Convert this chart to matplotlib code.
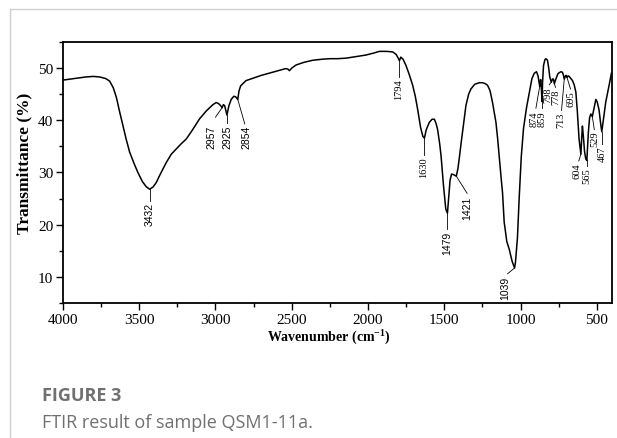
import numpy as np
import matplotlib
matplotlib.use('agg')
import matplotlib.pyplot as plt
from matplotlib.ticker import MultipleLocator
from matplotlib.lines import Line2D

plt.rcParams['font.family'] = ['Liberation Serif', 'DejaVu Serif']
plt.rcParams['mathtext.fontset'] = 'custom'
plt.rcParams['mathtext.rm'] = 'Liberation Serif:bold'
plt.rcParams['mathtext.bf'] = 'Liberation Serif:bold'

# spectrum (wavenumber, transmittance %)
wavenumber = [4000, 3950, 3900, 3850, 3800, 3760, 3720, 3694, 3670, 3650, 3630, 3607,
              3585, 3563, 3535, 3509, 3480, 3455, 3432, 3410, 3388, 3360, 3323, 3290,
              3257, 3225, 3192, 3150, 3104, 3060, 3017, 2995, 2980, 2966, 2957, 2948,
              2940, 2925, 2912, 2897, 2880, 2868, 2854, 2846, 2835, 2800, 2750, 2700,
              2650, 2600, 2540, 2525, 2515, 2500, 2471, 2420, 2362, 2300, 2250, 2200,
              2144, 2080, 2013, 1960, 1926, 1880, 1838, 1815, 1800, 1794, 1785, 1770,
              1751, 1730, 1707, 1690, 1675, 1655, 1640, 1630, 1618, 1598, 1580, 1565,
              1555, 1544, 1530, 1521, 1505, 1490, 1479, 1470, 1462, 1452, 1440, 1421,
              1410, 1402, 1390, 1380, 1368, 1358, 1340, 1325, 1300, 1270, 1249, 1230,
              1216, 1200, 1184, 1172, 1161, 1150, 1140, 1125, 1118, 1107, 1090, 1074,
              1055, 1039, 1033, 1026, 1020, 1009, 995, 980, 960, 943, 925, 910,
              895, 885, 874, 868, 863, 859, 855, 849, 840, 834, 823, 815,
              808, 798, 790, 784, 778, 768, 755, 747, 735, 725, 718, 713,
              705, 700, 695, 688, 681, 670, 659, 648, 637, 628, 616, 604,
              598, 594, 588, 580, 572, 565, 560, 555, 547, 539, 529, 520,
              506, 497, 485, 475, 467, 458, 441, 419, 404]
transmittance = [47.7, 47.9, 48.1, 48.3, 48.4, 48.3, 48.0, 47.5, 46.2, 44.4, 41.8, 39.0,
                 36.3, 33.9, 31.8, 30.0, 28.3, 27.3, 26.8, 27.2, 28.1, 29.8, 31.9, 33.5,
                 34.5, 35.5, 36.4, 38.2, 40.3, 41.8, 43.0, 43.4, 43.2, 42.8, 42.4, 43.0,
                 42.8, 41.0, 42.8, 44.0, 44.6, 44.5, 44.0, 45.6, 46.6, 47.6, 48.1, 48.6,
                 49.0, 49.4, 49.9, 49.8, 49.5, 50.0, 50.6, 51.1, 51.5, 51.7, 51.8, 51.8,
                 51.9, 52.2, 52.5, 52.9, 53.2, 53.2, 53.1, 52.6, 51.8, 51.4, 52.1, 51.7,
                 50.5, 48.8, 46.7, 44.6, 42.2, 38.6, 36.9, 36.6, 38.2, 39.6, 40.2, 40.2,
                 39.5, 38.3, 35.5, 33.2, 27.5, 23.0, 22.2, 25.5, 28.5, 29.7, 29.6, 29.3,
                 30.8, 32.6, 35.5, 37.7, 40.5, 42.8, 45.0, 46.0, 46.9, 47.2, 47.2, 47.0,
                 46.7, 45.7, 43.5, 41.5, 39.6, 36.5, 33.2, 28.3, 26.2, 20.5, 16.8, 15.3,
                 13.0, 11.7, 12.8, 15.3, 17.5, 24.9, 33.0, 38.5, 42.5, 45.2, 48.0, 49.0,
                 49.3, 48.5, 46.5, 47.8, 46.0, 43.6, 47.5, 50.5, 51.6, 51.8, 51.5, 50.0,
                 48.3, 47.3, 47.9, 47.9, 47.0, 47.9, 48.9, 49.1, 49.3, 49.2, 48.6, 47.9,
                 48.5, 48.6, 48.2, 48.5, 48.4, 48.0, 47.6, 46.8, 45.4, 42.0, 36.4, 33.5,
                 37.0, 38.9, 37.0, 34.0, 32.6, 32.3, 35.0, 37.7, 40.5, 41.2, 40.7, 42.0,
                 44.0, 43.5, 42.0, 39.5, 37.8, 39.8, 43.5, 46.7, 49.0]

# labelled bands
peaks = [3432, 2957, 2925, 2854, 1794, 1630, 1479, 1421, 1039,
         874, 859, 798, 778, 713, 695, 604, 565, 529, 467]
sans_peaks = [3432, 2957, 2925, 2854, 1479, 1421, 1039]

# leader line end (x, y) and top of text (x, y) for each label
label_pos = {
    3432: (3432, 24.6, 3432, 24.3),
    2957: (3000, 40.6, 3026, 39.1),
    2925: (2925, 39.4, 2924, 39.1),
    2854: (2808, 39.3, 2799, 39.1),
    1794: (1794, 48.3, 1798, 48.0),
    1630: (1630, 33.3, 1632, 33.0),
    1479: (1479, 19.2, 1482, 18.9),
    1421: (1350, 26.0, 1347, 25.6),
    1039: (1085, 10.6, 1102, 10.3),
    874: (899, 42.3, 912, 41.9),
    859: (859, 42.3, 856, 41.9),
    798: (812, 46.8, 818, 46.5),
    778: (770, 46.3, 766, 46.0),
    713: (731, 41.9, 736, 41.6),
    695: (672, 46.0, 668, 45.7),
    604: (618, 32.2, 627, 31.9),
    565: (565, 31.2, 565, 31.0),
    529: (516, 38.2, 511, 38.0),
    467: (467, 35.4, 467, 35.1),
}

fig = plt.figure(figsize=(6.17, 4.39), dpi=100)
ax = fig.add_axes([0.1021, 0.3075, 0.8898, 0.5946])

ax.plot(wavenumber, transmittance, color='black', lw=1.1)

for p in peaks:
    y0 = transmittance[wavenumber.index(p)]
    lx, ly, tx, ty = label_pos[p]
    ax.plot([p, lx], [y0, ly], color='black', lw=0.6)
    if p in sans_peaks:
        fam, fs = ['Liberation Sans', 'DejaVu Sans'], 7.5
    else:
        fam, fs = ['Liberation Serif', 'DejaVu Serif'], 7.5
    ax.text(tx, ty, str(p), rotation=90, ha='center', va='top',
            fontsize=fs, family=fam)

ax.set_xlim(4000, 400)
ax.set_ylim(5, 55)
ax.xaxis.set_major_locator(MultipleLocator(500))
ax.xaxis.set_minor_locator(MultipleLocator(250))
ax.yaxis.set_major_locator(MultipleLocator(10))
ax.yaxis.set_minor_locator(MultipleLocator(5))
ax.tick_params(which='both', direction='out', width=1.0, labelsize=11)
ax.tick_params(which='major', length=5, pad=2)
ax.tick_params(which='minor', length=3)
for s in ax.spines.values():
    s.set_linewidth(1.3)

ax.set_xlabel('Wavenumber (cm$^{-1}$)', fontsize=10, fontweight='bold')
ax.set_ylabel('Transmittance (%)', fontsize=12.5, fontweight='bold')
ax.xaxis.set_label_coords(0.4845, -0.09)
ax.yaxis.set_label_coords(-0.055, 0.54)

# card border and caption
fig.add_artist(Line2D([10 / 617, 1], [1 - 10 / 439, 1 - 10 / 439], color='#d0d0d0', lw=1.0))
fig.add_artist(Line2D([10 / 617, 10 / 617], [0, 1 - 10 / 439], color='#d0d0d0', lw=1.0))
fig.text(42 / 617, 1 - 396 / 439, 'FIGURE 3', fontsize=13, fontweight='bold',
         color='#707070', family=['Open Sans', 'DejaVu Sans'], va='center')
fig.text(42 / 617, 1 - 423 / 439, 'FTIR result of sample QSM1-11a.', fontsize=13,
         color='#707070', family=['Open Sans', 'DejaVu Sans'], va='center')

fig.savefig('out.png', dpi=100)
